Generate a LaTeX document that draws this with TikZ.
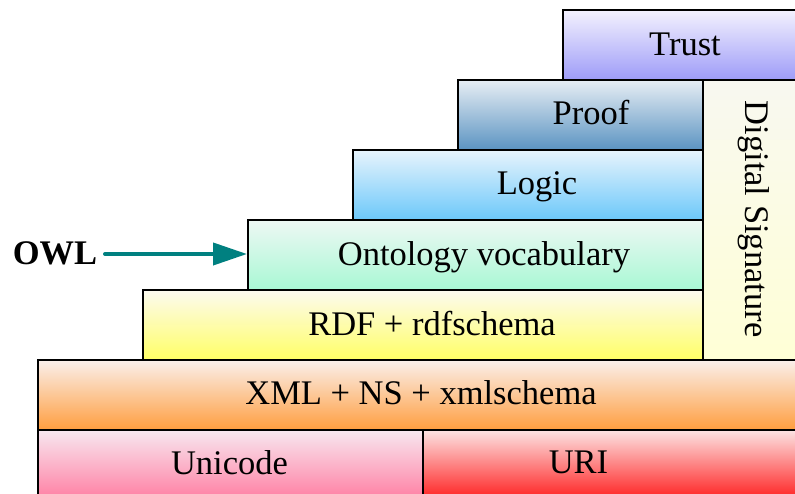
\documentclass[tikz,border=0pt]{standalone}
\usepackage{fontspec}
\setmainfont{Liberation Serif}
\usetikzlibrary{arrows.meta}
\definecolor{trustT}{HTML}{F4F2FE}\definecolor{trustB}{HTML}{9E9CF8}
\definecolor{proofT}{HTML}{E8EEF4}\definecolor{proofB}{HTML}{5B94C2}
\definecolor{logicT}{HTML}{E8F4FC}\definecolor{logicB}{HTML}{6CC8FA}
\definecolor{ontoT}{HTML}{EEF8F4}\definecolor{ontoB}{HTML}{A8F8D4}
\definecolor{rdfT}{HTML}{FCFAF0}\definecolor{rdfB}{HTML}{FFFF66}
\definecolor{dsT}{HTML}{F8F8F0}\definecolor{dsB}{HTML}{FFFFD6}
\definecolor{xmlT}{HTML}{FAF0EC}\definecolor{xmlB}{HTML}{FF9E40}
\definecolor{uniT}{HTML}{F8E8F0}\definecolor{uniB}{HTML}{FF7BA0}
\definecolor{uriT}{HTML}{FCE4E4}\definecolor{uriB}{HTML}{FF1A1A}
\definecolor{owlteal}{HTML}{008080}
\tikzset{
  layer/.style={draw=black, line width=1.5pt, rectangle, anchor=north west, inner sep=0pt},
  lbl/.style={anchor=base, inner sep=0pt, font=\fontsize{34.5}{40}\selectfont},
}
\begin{document}
\begin{tikzpicture}[x=1pt,y=-1pt]
\useasboundingbox (0,0) rectangle (795,493);
\clip (0,0) rectangle (795,493);
\node[layer, top color=trustT, bottom color=trustB, minimum width=246pt, minimum height=70pt] (trust) at (562,9) {};
\node[layer, top color=dsT, bottom color=dsB, minimum width=106pt, minimum height=280pt] (ds) at (702,79) {};
\node[layer, top color=proofT, bottom color=proofB, minimum width=245pt, minimum height=70pt] (proof) at (457,79) {};
\node[layer, top color=logicT, bottom color=logicB, minimum width=350pt, minimum height=70pt] (logic) at (352,149) {};
\node[layer, top color=ontoT, bottom color=ontoB, minimum width=455pt, minimum height=70pt] (onto) at (247,219) {};
\node[layer, top color=rdfT, bottom color=rdfB, minimum width=560pt, minimum height=70pt] (rdf) at (142,289) {};
\node[layer, top color=xmlT, bottom color=xmlB, minimum width=771pt, minimum height=70pt] (xml) at (37,359) {};
\node[layer, top color=uniT, bottom color=uniB, minimum width=385pt, minimum height=72pt] (uni) at (37,429) {};
\node[layer, top color=uriT, bottom color=uriB, minimum width=386pt, minimum height=72pt] (uri) at (422,429) {};

\node[lbl] (ltrust) at (685,55) {Trust};
\node[lbl] (lproof) at (591,124) {Proof};
\node[lbl] (llogic) at (537,194) {Logic};
\node[lbl] (lonto) at (484,265) {Ontology vocabulary};
\node[lbl] (lrdf) at (432,335) {RDF + rdfschema};
\node[lbl] (lxml) at (421,404) {XML + NS + xmlschema};
\node[lbl] (luni) at (229.5,474) {Unicode};
\node[lbl] (luri) at (578.5,473) {URI};
\node[lbl, rotate=-90] (lds) at (745,219) {Digital Signature};

\node[lbl, font=\fontsize{34.5}{40}\selectfont\bfseries] (owl) at (55,264) {OWL};
\coordinate (owlstart) at (105,254);
\draw[owlteal, line width=4pt, line cap=round, -{Triangle[length=34pt,width=22pt]}] (owlstart) -- (onto.west |- owlstart);
\end{tikzpicture}
\end{document}
